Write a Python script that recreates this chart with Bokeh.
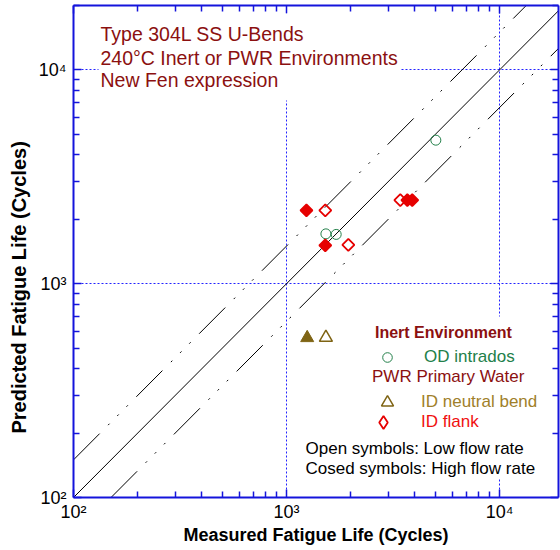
import math
from bokeh.plotting import figure
from bokeh.models import (LogAxis, FixedTicker, Label, Legend, LegendItem, BoxAnnotation,
                          Title)
from bokeh.embed import file_html
from bokeh.resources import INLINE

# ---------------- data ----------------
# OD intrados, inert environment (open = low flow rate)
od_low_x = [1530, 1710, 5020]
od_low_y = [1710, 1700, 4690]
# ID neutral bend, PWR primary water
idn_high_x = [1250]
idn_high_y = [558]
idn_low_x = [1530]
idn_low_y = [560]
# ID flank, PWR primary water
idf_high_x = [1240, 1520, 3690, 3890]
idf_high_y = [2200, 1510, 2460, 2460]
idf_low_x = [1520, 1950, 3420]
idf_low_y = [2200, 1520, 2460]

# reference lines: 1:1 and factor-of-1.5 bands
diag = [100, 20000]
band_factor = 1.5

major_ticks = [100, 1000, 10000]
tick_labels = {100: "10²", 1000: "10³", 10000: "10⁴"}
grid_ticks = [1000, 10000]

title_lines = ["Type 304L SS U-Bends", "240°C Inert or PWR Environments", "New Fen expression"]
note_lines = ["Open symbols: Low flow rate", "Cosed symbols: High flow rate"]

FONT = "Liberation Sans"
BLUE = "#1414dc"
GRID = "#2222ff"
RED = "#e60000"
GREEN = "#23804a"
OLIVE = "#7f6414"
MAROON = "#8b1010"

p = figure(width=560, height=550, x_axis_type="log", y_axis_type="log",
           x_range=(100, 18900), y_range=(100, 20000),
           output_backend="svg", toolbar_location=None,
           min_border_left=73, min_border_right=2, min_border_top=5, min_border_bottom=53)
p.outline_line_color = None
p.background_fill_color = "white"
p.border_fill_color = "white"

minor = [m * d for d in major_ticks for m in range(2, 10)]


def make_ticker():
    return FixedTicker(ticks=major_ticks, minor_ticks=minor)


def style_axis(ax, labels):
    ax.ticker = make_ticker()
    ax.axis_line_color = BLUE
    ax.axis_line_width = 2
    ax.major_tick_line_color = BLUE
    ax.major_tick_line_width = 1.5
    ax.minor_tick_line_color = BLUE
    ax.minor_tick_line_width = 1.5
    ax.major_tick_in = 8
    ax.major_tick_out = 0
    ax.minor_tick_in = 6
    ax.minor_tick_out = 0
    if labels:
        ax.major_label_overrides = tick_labels
        ax.major_label_text_font = FONT
        ax.major_label_text_font_size = "18px"
        ax.major_label_text_color = "black"
    else:
        ax.major_label_overrides = {t: " " for t in major_ticks}
        ax.major_label_text_font_size = "1px"
        ax.major_label_text_alpha = 0
        ax.major_label_standoff = 0


xa = p.below[0]
ya = p.left[0]
style_axis(xa, True)
style_axis(ya, True)
xa.major_label_standoff = 4
ya.major_label_standoff = 7
xa.axis_label = "Measured Fatigue Life (Cycles)"
xa.axis_label_text_font = FONT
xa.axis_label_text_font_size = "18px"
xa.axis_label_text_font_style = "bold"
xa.axis_label_text_color = "black"
xa.axis_label_standoff = 0

top = LogAxis()
right = LogAxis()
style_axis(top, False)
style_axis(right, False)
p.add_layout(top, "above")
p.add_layout(right, "right")

# y axis title (placed as a side title so it can sit lower, as in the reference)
p.add_layout(Title(text="Predicted Fatigue Life (Cycles)", align="left", offset=64,
                   vertical_align="middle", standoff=10,
                   text_font=FONT, text_font_size="20px", text_font_style="bold",
                   text_color="black"), "left")

for g in (p.xgrid[0], p.ygrid[0]):
    g.ticker = FixedTicker(ticks=grid_ticks)
    g.grid_line_color = GRID
    g.grid_line_dash = "2 2"
    g.grid_line_width = 1

# ---------------- reference lines ----------------
DASHDOT = "37 12 2 11 2 11 2 12"
p.line(diag, diag, line_color="black", line_width=1)
p.line(diag, [v * band_factor for v in diag], line_color="black", line_width=1, line_dash=DASHDOT)
p.line([v * band_factor for v in diag], diag, line_color="black", line_width=1, line_dash=DASHDOT)

# ---------------- data markers ----------------
r_od = p.scatter(od_low_x, od_low_y, marker="circle", size=10, fill_color=None,
                 line_color=GREEN, line_width=1)
r_idf_low = p.scatter(idf_low_x, idf_low_y, marker="square", angle=math.pi / 4, size=8.5,
                      fill_color=None, line_color=RED, line_width=1.8)
r_idf_high = p.scatter(idf_high_x, idf_high_y, marker="square", angle=math.pi / 4, size=8.5,
                       fill_color=RED, line_color=RED, line_width=1.8)
r_idn_high = p.scatter(idn_high_x, idn_high_y, marker="triangle", size=13,
                       fill_color=OLIVE, line_color=OLIVE, line_width=1)
r_idn_low = p.scatter(idn_low_x, idn_low_y, marker="triangle", size=13,
                      fill_color=None, line_color=OLIVE, line_width=1.5)
# legend key for ID flank (legend keys are never rotated, so a diamond marker is used;
# its single point is NaN so nothing is drawn in the plot area)
r_idf_key = p.scatter([float("nan")], [float("nan")], marker="diamond", size=12,
                      fill_color=None, line_color=RED, line_width=1.8)

# ---------------- white panels behind texts ----------------
p.add_layout(BoxAnnotation(left=25, right=327, bottom=397, top=484,
                           left_units="screen", right_units="screen",
                           bottom_units="screen", top_units="screen",
                           fill_color="white", fill_alpha=1, line_color=None))
p.add_layout(BoxAnnotation(left=299, right=462, bottom=57, top=181,
                           left_units="screen", right_units="screen",
                           bottom_units="screen", top_units="screen",
                           fill_color="white", fill_alpha=1, line_color=None))

# ---------------- title block ----------------
for txt, yy in zip(title_lines, [464, 440, 418]):
    p.add_layout(Label(x=27, y=yy, x_units="screen", y_units="screen", text=txt,
                       text_font=FONT, text_font_size="19.5px", text_color=MAROON,
                       text_baseline="middle", text_align="left"))


# ---------------- legends ----------------
def make_legend(items, loc, label_color, standoff, title=None, title_style="normal",
                title_size="17px", title_standoff=0, glyph=24, bg_alpha=1):
    kw = {}
    if title is not None:
        kw = dict(title=title, title_text_font=FONT, title_text_font_size=title_size,
                  title_text_font_style=title_style, title_text_color=MAROON,
                  title_standoff=title_standoff)
    return Legend(items=items, location=loc, padding=2, margin=0, spacing=0,
                  glyph_width=glyph, glyph_height=glyph, label_standoff=standoff,
                  label_text_font=FONT, label_text_font_size="17px",
                  label_text_color=label_color, border_line_color=None,
                  background_fill_color="white", background_fill_alpha=bg_alpha, **kw)


p.add_layout(make_legend([LegendItem(label="OD intrados", renderers=[r_od])],
                         (302, 128), GREEN, 25, title="Inert Environment",
                         title_style="bold", title_size="16px", title_standoff=3,
                         bg_alpha=0))
p.add_layout(make_legend([LegendItem(label="ID neutral bend", renderers=[r_idn_low])],
                         (299, 80), "#a0802a", 19, title="PWR Primary Water",
                         title_standoff=0, glyph=30, bg_alpha=0))
p.add_layout(make_legend([LegendItem(label="ID flank", renderers=[r_idf_key])],
                         (294, 59), "#f01010", 22, glyph=32, bg_alpha=0))

for txt, yy in zip(note_lines, [49, 29]):
    p.add_layout(Label(x=232, y=yy, x_units="screen", y_units="screen", text=txt,
                       text_font=FONT, text_font_size="17px", text_color="black",
                       text_baseline="middle", text_align="left",
                       background_fill_color="white", background_fill_alpha=1))

open("out.html", "w").write(file_html(p, INLINE))
